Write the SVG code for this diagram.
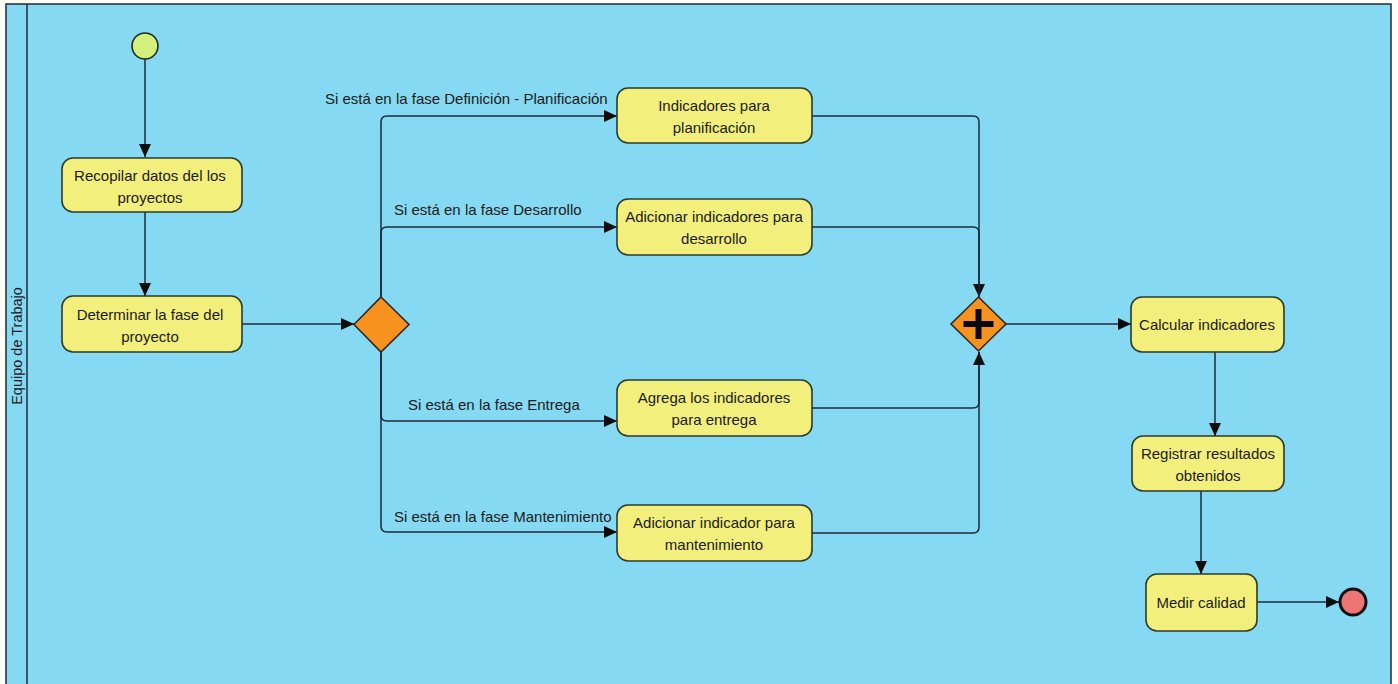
<svg xmlns="http://www.w3.org/2000/svg" width="1398" height="684" viewBox="0 0 1398 684">
  <style>
    .task rect { fill: #f2ef7c; stroke: #2b3a2b; stroke-width: 1.6; }
    .lbl { font-family: "Liberation Sans", Arial, sans-serif; font-size: 15px; fill: #1b1b1b; }
    .task text { text-anchor: middle; }
    .flow { fill: none; stroke: #1c2a3a; stroke-width: 1.5; }
  </style>
  <defs>
    <marker id="arrow" markerWidth="13" markerHeight="12" refX="13" refY="6" orient="auto" markerUnits="userSpaceOnUse">
      <path d="M0,0 L13,6 L0,12 Z" fill="#0d0d0d"/>
    </marker>
  </defs>

  <!-- page background -->
  <rect x="0" y="0" width="1398" height="684" fill="#fdfcf5"/>

  <!-- pool and lane -->
  <g id="pool">
    <rect x="6" y="4" width="1385" height="690" fill="#86d9f2" stroke="#1e2a33" stroke-width="1.5"/>
    <line x1="27" y1="4" x2="27" y2="684" stroke="#1e2a33" stroke-width="1.5"/>
    <text class="lbl" transform="translate(22,346) rotate(-90)" text-anchor="middle" style="font-size:14.5px">Equipo de Trabajo</text>
  </g>

  <!-- sequence flows -->
  <g id="connectors">
    <path class="flow" d="M145,59 V157" marker-end="url(#arrow)"/>
    <path class="flow" d="M145,212 V296" marker-end="url(#arrow)"/>
    <path class="flow" d="M242,324 H354" marker-end="url(#arrow)"/>

    <path class="flow" d="M381,297 V122 Q381,116 387,116 H617" marker-end="url(#arrow)"/>
    <path class="flow" d="M381,297 V233 Q381,227 387,227 H617" marker-end="url(#arrow)"/>
    <path class="flow" d="M381,352 V415 Q381,421 387,421 H617" marker-end="url(#arrow)"/>
    <path class="flow" d="M381,352 V526 Q381,532 387,532 H617" marker-end="url(#arrow)"/>

    <path class="flow" d="M812,116 H973 Q979,116 979,122 V297" marker-end="url(#arrow)"/>
    <path class="flow" d="M812,227 H973 Q979,227 979,233 V297"/>
    <path class="flow" d="M812,408 H973 Q979,408 979,402 V352"/>
    <path class="flow" d="M812,533 H973 Q979,533 979,527 V352" marker-end="url(#arrow)"/>

    <path class="flow" d="M1006,324 H1131" marker-end="url(#arrow)"/>
    <path class="flow" d="M1215,352 V436" marker-end="url(#arrow)"/>
    <path class="flow" d="M1201,491 V574" marker-end="url(#arrow)"/>
    <path class="flow" d="M1257,602 H1339" marker-end="url(#arrow)"/>

    <text class="lbl" x="325" y="104">Si está en la fase Definición - Planificación</text>
    <text class="lbl" x="394" y="215">Si está en la fase Desarrollo</text>
    <text class="lbl" x="408" y="410">Si está en la fase Entrega</text>
    <text class="lbl" x="394" y="522">Si está en la fase Mantenimiento</text>
  </g>

  <!-- events -->
  <g id="start">
    <circle cx="145" cy="46" r="13" fill="#d3f07c" stroke="#1e2a1e" stroke-width="1.6"/>
  </g>
  <g id="end">
    <circle cx="1353" cy="602" r="13" fill="#ee7576" stroke="#111" stroke-width="3"/>
  </g>

  <!-- tasks -->
  <g id="recopilar" class="task">
    <rect x="62" y="158" width="180" height="54" rx="11"/>
    <text class="lbl" x="150" y="181">Recopilar datos del los</text>
    <text class="lbl" x="150" y="203">proyectos</text>
  </g>
  <g id="determinar" class="task">
    <rect x="62" y="296" width="180" height="56" rx="11"/>
    <text class="lbl" x="150" y="320">Determinar la fase del</text>
    <text class="lbl" x="150" y="342">proyecto</text>
  </g>
  <g id="ind-planificacion" class="task">
    <rect x="617" y="88" width="195" height="55" rx="11"/>
    <text class="lbl" x="714" y="111">Indicadores para</text>
    <text class="lbl" x="714" y="133">planificación</text>
  </g>
  <g id="ind-desarrollo" class="task">
    <rect x="617" y="199" width="195" height="56" rx="11"/>
    <text class="lbl" x="714" y="222">Adicionar indicadores para</text>
    <text class="lbl" x="714" y="244">desarrollo</text>
  </g>
  <g id="ind-entrega" class="task">
    <rect x="617" y="380" width="195" height="56" rx="11"/>
    <text class="lbl" x="714" y="403">Agrega los indicadores</text>
    <text class="lbl" x="714" y="425">para entrega</text>
  </g>
  <g id="ind-mantenimiento" class="task">
    <rect x="617" y="505" width="195" height="56" rx="11"/>
    <text class="lbl" x="714" y="528">Adicionar indicador para</text>
    <text class="lbl" x="714" y="550">mantenimiento</text>
  </g>
  <g id="calcular" class="task">
    <rect x="1131" y="297" width="153" height="55" rx="11"/>
    <text class="lbl" x="1207" y="330">Calcular indicadores</text>
  </g>
  <g id="registrar" class="task">
    <rect x="1132" y="436" width="152" height="55" rx="11"/>
    <text class="lbl" x="1208" y="459">Registrar resultados</text>
    <text class="lbl" x="1208" y="481">obtenidos</text>
  </g>
  <g id="medir" class="task">
    <rect x="1146" y="574" width="111" height="57" rx="11"/>
    <text class="lbl" x="1201" y="608">Medir calidad</text>
  </g>

  <!-- gateways -->
  <g id="gateway-fase">
    <polygon points="381,297 409,324.5 381,352 354,324.5" fill="#f7921e" stroke="#2a2a2a" stroke-width="1.6"/>
  </g>
  <g id="gateway-union">
    <polygon points="978.5,297 1006,324 978.5,351 951,324" fill="#f7921e" stroke="#2a2a2a" stroke-width="1.6"/>
    <path d="M978.5,309 V339 M963.5,324 H993.5" stroke="#0a0a0a" stroke-width="6"/>
  </g>
</svg>
